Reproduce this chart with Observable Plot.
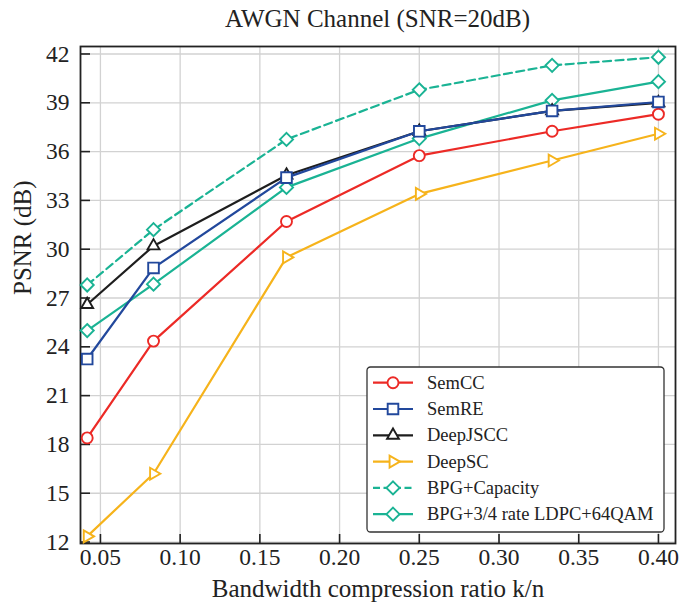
<!DOCTYPE html>
<html><head><meta charset="utf-8">
<script src="https://cdn.jsdelivr.net/npm/d3@7"></script>
<script src="https://cdn.jsdelivr.net/npm/@observablehq/plot@0.6"></script>
<style>
body{margin:0;background:#fff;}
#title{height:40px;box-sizing:border-box;padding-top:6px;padding-left:80px;padding-right:5px;width:680px;text-align:center;font-family:"Liberation Serif",serif;font-size:25px;line-height:1;color:#222;}
</style></head><body>
<div id="title">AWGN Channel (SNR=20dB)</div>
<div id="chart"></div>
<script>
// Bandwidth compression ratio k/n
const kn = [0.0417, 0.0833, 0.1667, 0.25, 0.3333, 0.4];
// PSNR (dB) per method
const semCC    = [18.4, 24.35, 31.7, 35.75, 37.25, 38.3];
const semRE    = [23.25, 28.85, 34.4, 37.25, 38.5, 39.05];
const deepJSCC = [26.6, 30.2, 34.55, 37.25, 38.5, 39.0];
const deepSC   = [12.35, 16.2, 29.5, 33.4, 35.45, 37.1];
const bpgCap   = [27.8, 31.2, 36.75, 39.8, 41.3, 41.8];
const bpgLdpc  = [25.0, 27.85, 33.8, 36.8, 39.15, 40.3];

const seriesNames = ["SemCC", "SemRE", "DeepJSCC", "DeepSC", "BPG+Capacity", "BPG+3/4 rate LDPC+64QAM"];
const seriesValues = [semCC, semRE, deepJSCC, deepSC, bpgCap, bpgLdpc];
const seriesColors = ["#ec2a26", "#22489c", "#1e1e1e", "#f6b31b", "#1ab394", "#1ab394"];
const seriesSymbols = ["circle", "square", "triangle", "triangle", "diamond2", "diamond2"];
const seriesRotate = [0, 0, 0, 90, 0, 0];
const seriesR = [5.5, 6.0, 4.4, 4.4, 5.9, 5.9];
const seriesDash = [null, null, null, null, "8,4.5", null];
const drawOrder = [4, 5, 3, 2, 0, 1];

const xTicks = [0.05, 0.10, 0.15, 0.20, 0.25, 0.30, 0.35, 0.40];
const yTicks = [12, 15, 18, 21, 24, 27, 30, 33, 36, 39, 42];
const xLabel = "Bandwidth compression ratio k/n";
const yLabel = "PSNR (dB)";

const serif = "Liberation Serif, serif";
const rows = [];
seriesNames.forEach((name, i) => seriesValues[i].forEach((v, j) => rows.push({series: name, k: kn[j], psnr: v})));

const dataMarks = [];
for (const i of drawOrder) {
  const d = rows.filter(r => r.series === seriesNames[i]);
  dataMarks.push(Plot.line(d, {x: "k", y: "psnr", stroke: seriesColors[i], strokeWidth: 2.2, strokeDasharray: seriesDash[i]}));
  dataMarks.push(Plot.dot(d, {x: "k", y: "psnr", symbol: seriesSymbols[i], r: seriesR[i], rotate: seriesRotate[i], stroke: seriesColors[i], fill: "white", strokeWidth: 1.9}));
}

const chart = Plot.plot({
  width: 680, height: 570,
  marginLeft: 80, marginRight: 5, marginTop: 6, marginBottom: 67,
  style: {fontFamily: serif, color: "#222", background: "white", overflow: "visible"},
  x: {domain: [0.0375, 0.4107], label: null},
  y: {domain: [11.91, 42.46], label: null},
  marks: [
    Plot.gridX(xTicks, {stroke: "#d2d2d2", strokeOpacity: 1, strokeWidth: 1.3}),
    Plot.gridY(yTicks, {stroke: "#d2d2d2", strokeOpacity: 1, strokeWidth: 1.3}),
    Plot.axisX(xTicks, {tickSize: -9, tickPadding: 14, tickFormat: d3.format(".2f"), fontSize: 23.5, fontFamily: serif, fontVariant: "normal", strokeWidth: 1.6, label: null}),
    Plot.axisY(yTicks, {tickSize: -10, tickPadding: 21, fontSize: 23.5, fontFamily: serif, fontVariant: "normal", strokeWidth: 1.6, label: null}),
    Plot.frame({stroke: "#222", strokeWidth: 1.8}),
    ...dataMarks,
    Plot.text([xLabel], {frameAnchor: "bottom", dy: 53, fontSize: 25, fontFamily: serif, fill: "#222"}),
    Plot.text([yLabel], {frameAnchor: "left", dx: -58, rotate: -90, fontSize: 25, fontFamily: serif, fill: "#222"})
  ]
});
document.getElementById("chart").appendChild(chart);

// Legend
const symbolTypes = {circle: d3.symbolCircle, square: d3.symbolSquare, triangle: d3.symbolTriangle, diamond2: d3.symbolDiamond2 || d3.symbolSquare};
const lg = d3.select(chart).append("g").attr("font-family", serif).attr("font-size", 18.5).attr("fill", "#222").attr("text-anchor", "start");
lg.append("rect").attr("x", 367).attr("y", 327).attr("width", 297).attr("height", 165).attr("rx", 3.5)
  .attr("fill", "white").attr("stroke", "#333").attr("stroke-width", 1.3);
seriesNames.forEach((name, i) => {
  const y = 342.7 + i * 26.3;
  const g = lg.append("g");
  g.append("line").attr("x1", 373).attr("x2", 413).attr("y1", y).attr("y2", y)
    .attr("stroke", seriesColors[i]).attr("stroke-width", 2.2).attr("stroke-dasharray", seriesDash[i] ? "7,3.5" : null);
  g.append("path").attr("d", d3.symbol().type(symbolTypes[seriesSymbols[i]]).size(Math.PI * seriesR[i] * seriesR[i])())
    .attr("transform", `translate(393,${y}) rotate(${seriesRotate[i]})`)
    .attr("fill", "white").attr("stroke", seriesColors[i]).attr("stroke-width", 1.9);
  g.append("text").attr("x", 427).attr("y", y).attr("dy", "0.33em").attr("text-anchor", "start").text(name);
});
</script>
</body></html>
